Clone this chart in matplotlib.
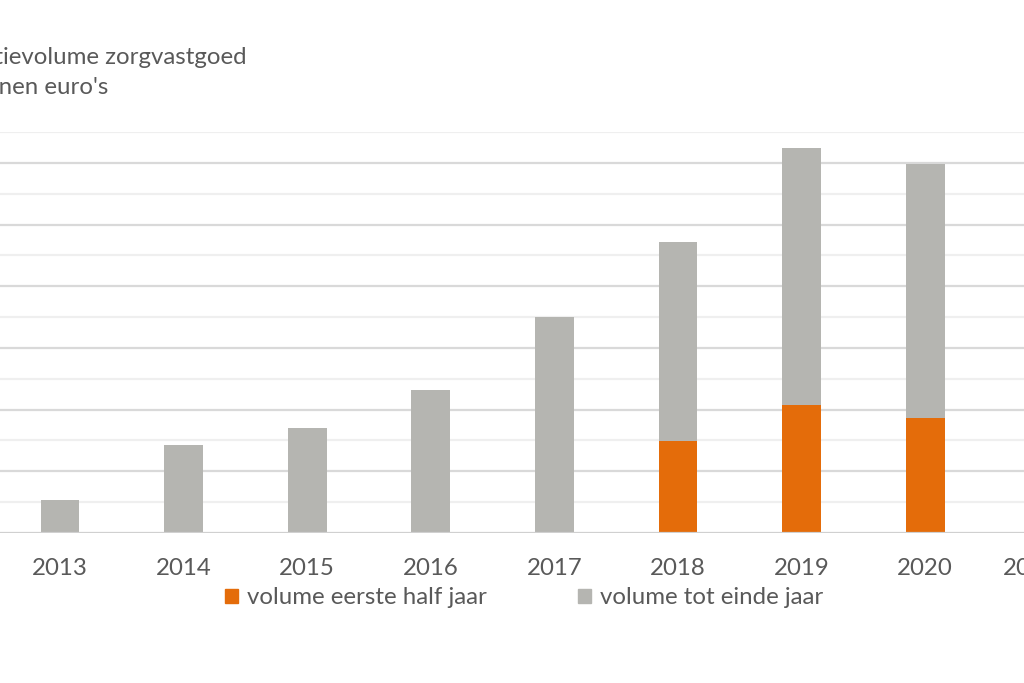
import matplotlib.pyplot as plt
import matplotlib.transforms as mtransforms
from matplotlib.patches import Patch

years = ['2013', '2014', '2015', '2016', '2017', '2018', '2019', '2020', '2021']
# total volume per year and volume in the first half year (relative units)
total = [53, 143, 170, 232, 350, 472, 624, 598, 0]
first_half = [0, 0, 0, 0, 0, 149, 207, 186, 0]
rest = [t - h for t, h in zip(total, first_half)]

orange = '#e46c0a'
grey = '#b5b5b1'
txt = '#595959'
fs = 17.3

plt.rcParams['font.family'] = ['Lato', 'DejaVu Sans']

W, H = 1024, 683
fig = plt.figure(figsize=(W / 100, H / 100), dpi=100)
# axes reaches past both figure edges, like the cropped original
step = 123.6
left_px = 60 - 0.5 * step
ax = fig.add_axes([left_px / W, 150 / H, 9 * step / W, 401 / H])

x = list(range(len(years)))
ax.bar(x, first_half, width=0.315, color=orange, zorder=3)
ax.bar(x, rest, width=0.315, bottom=first_half, color=grey, zorder=3)

ax.set_xlim(-0.5, 8.5)
ax.set_ylim(0, 650)
for v in range(50, 651, 50):
    c = '#d9d9d9' if v % 100 == 0 else '#efefef'
    ax.axhline(v, color=c, lw=1.6, zorder=1)
ax.axhline(0, color='#d0d0d0', lw=1.6, zorder=4)

for s in ax.spines.values():
    s.set_visible(False)
ax.set_yticks([])
ax.set_xticks(x)
ax.set_xticklabels(years, fontsize=fs, color=txt)
ax.tick_params(axis='x', length=0, pad=18)
# last label sits a little left in the original
lbl = ax.get_xticklabels()[-1]
lbl.set_transform(lbl.get_transform() + mtransforms.ScaledTranslation(-0.18, 0, fig.dpi_scale_trans))

fig.text(247 / W, 1 - 57 / H, 'Transactievolume zorgvastgoed', ha='right', va='center',
         fontsize=fs, color=txt)
fig.text(108 / W, 1 - 88 / H, "in miljoenen euro's", ha='right', va='center',
         fontsize=fs, color=txt)

handles = [Patch(color=orange), Patch(color=grey)]
fig.legend(handles, ['volume eerste half jaar', 'volume tot einde jaar'],
           loc='center', bbox_to_anchor=(524 / W, 1 - 598 / H), ncol=2, frameon=False,
           fontsize=fs, labelcolor=txt, handlelength=0.55, handleheight=0.55,
           handletextpad=0.35, columnspacing=3.8)

fig.savefig('out.png', dpi=100, facecolor='white')
